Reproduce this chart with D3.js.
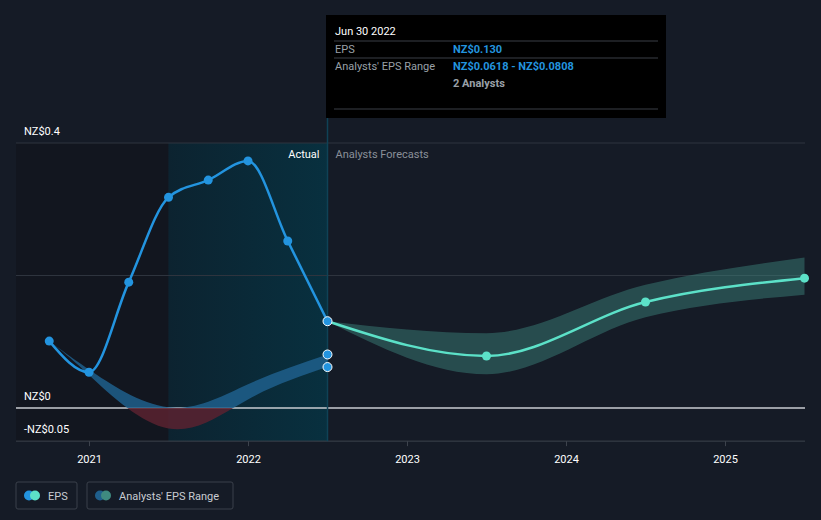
<!DOCTYPE html>
<html>
<head>
<meta charset="utf-8">
<script src="https://cdn.jsdelivr.net/npm/d3@7"></script>
<style>
  body { margin: 0; background: #151b26; font-family: Roboto, "Noto Sans", sans-serif; }
  svg { display: block; }
</style>
</head>
<body>
<div id="graf"></div>
<script>
// datos
var fechasEps   = [2020.75, 2021.0, 2021.25, 2021.5, 2021.75, 2022.0, 2022.25, 2022.5]
var valoresEps  = [0.101, 0.054, 0.190, 0.318, 0.344, 0.373, 0.252, 0.131]

var fechasRango = [2020.75, 2021.0, 2021.5, 2022.0, 2022.5]
var rangoBajo   = [0.101, 0.050, -0.031, 0.013, 0.0618]
var rangoAlto   = [0.101, 0.058, 0.001, 0.036, 0.0808]

var fechasPron  = [2022.5, 2023.5, 2024.5, 2025.5]
var valoresPron = [0.131, 0.0785, 0.160, 0.196]
var pronBajo    = [0.131, 0.051, 0.137, 0.171]
var pronAlto    = [0.131, 0.113, 0.186, 0.227]

var ticksX = [2021, 2022, 2023, 2024, 2025]
var ticksY = [0.4, 0.2, 0, -0.05]
var etiquetasY = ['NZ$0.4', '', 'NZ$0', '-NZ$0.05']

var ancho_total = 821, alto_total = 520
var svg = d3.select('#graf').append('svg')
  .attr('width', ancho_total).attr('height', alto_total)

var x = d3.scaleLinear().domain([2021, 2025]).range([89, 725])
var y = d3.scaleLinear().domain([0, 0.4]).range([408, 143])
var xIzq = 16, xDer = 805, yArriba = 143, yAbajo = y(-0.05)

var defs = svg.append('defs')
var grad = defs.append('linearGradient').attr('id', 'gradPasado')
grad.append('stop').attr('offset', '0%').attr('stop-color', '#0c2330')
grad.append('stop').attr('offset', '100%').attr('stop-color', '#08303f')
defs.append('clipPath').attr('id', 'arriba').append('rect')
  .attr('x', 0).attr('y', 0).attr('width', ancho_total).attr('height', y(0))
defs.append('clipPath').attr('id', 'abajo').append('rect')
  .attr('x', 0).attr('y', y(0)).attr('width', ancho_total).attr('height', 200)

// fondos
svg.append('rect').attr('x', xIzq).attr('y', yArriba)
  .attr('width', x(2021.5) - xIzq).attr('height', yAbajo - yArriba)
  .attr('fill', '#12161f')
svg.append('rect').attr('x', x(2021.5)).attr('y', yArriba)
  .attr('width', x(2022.5) - x(2021.5)).attr('height', yAbajo - yArriba)
  .attr('fill', 'url(#gradPasado)')

// rejilla
svg.selectAll('line.grid').data(ticksY).enter().append('line')
  .attr('x1', xIzq).attr('x2', xDer)
  .attr('y1', d => y(d)).attr('y2', d => y(d))
  .attr('stroke', d => d === 0 ? '#c8ccd2' : (d === -0.05 ? '#3d434d' : '#2e343e'))
  .attr('stroke-width', d => d === 0 ? 1.5 : 1)

svg.selectAll('text.ylab').data(ticksY).enter().append('text')
  .attr('x', 24).attr('y', d => y(d) - 8)
  .attr('fill', '#ffffff').attr('font-size', 11)
  .text((d, i) => etiquetasY[i])

// eje x
var xAxis = d3.axisBottom(x).tickValues(ticksX).tickFormat(d3.format('d')).tickSize(5).tickSizeOuter(0)
var gx = svg.append('g').attr('transform', `translate(0, ${yAbajo})`).call(xAxis)
gx.select('.domain').remove()
gx.selectAll('line').attr('stroke', '#3d434d')
gx.selectAll('text').attr('fill', '#ffffff').attr('font-size', 11).attr('dy', '1.3em')
  .attr('font-family', 'Roboto, sans-serif')

// linea vertical del tooltip
svg.append('line').attr('x1', x(2022.5)).attr('x2', x(2022.5))
  .attr('y1', 118).attr('y2', yAbajo)
  .attr('stroke', '#0f4256').attr('stroke-width', 1.5)

// area historica del rango
var datosRango = fechasRango.map((f, i) => ({ f: f, lo: rangoBajo[i], hi: rangoAlto[i] }))
var area = d3.area().x(d => x(d.f)).y0(d => y(d.lo)).y1(d => y(d.hi)).curve(d3.curveNatural)
svg.append('path').datum(datosRango).attr('d', area)
  .attr('fill', '#1f5f8c').attr('opacity', 0.85).attr('clip-path', 'url(#arriba)')
svg.append('path').datum(datosRango).attr('d', area)
  .attr('fill', '#5a2230').attr('opacity', 0.85).attr('clip-path', 'url(#abajo)')

// area de pronostico
var datosPron = fechasPron.map((f, i) => ({ f: f, v: valoresPron[i], lo: pronBajo[i], hi: pronAlto[i] }))
var areaPron = d3.area().x(d => x(d.f)).y0(d => y(d.lo)).y1(d => y(d.hi)).curve(d3.curveMonotoneX)
svg.append('path').datum(datosPron).attr('d', areaPron)
  .attr('fill', '#3f8a80').attr('opacity', 0.45)

// linea de pronostico
var linea = d3.line().x(d => x(d.f)).y(d => y(d.v)).curve(d3.curveMonotoneX)
svg.append('path').datum(datosPron).attr('d', linea)
  .attr('fill', 'none').attr('stroke', '#5ce1c8').attr('stroke-width', 2.5)
svg.selectAll('circle.pron').data(datosPron.slice(1)).enter().append('circle')
  .attr('cx', d => x(d.f)).attr('cy', d => y(d.v)).attr('r', 4.5).attr('fill', '#5ce1c8')

// linea EPS real
var datosEps = fechasEps.map((f, i) => ({ f: f, v: valoresEps[i] }))
svg.append('path').datum(datosEps).attr('d', linea)
  .attr('fill', 'none').attr('stroke', '#2394df').attr('stroke-width', 2.5)
svg.selectAll('circle.eps').data(datosEps.slice(0, -1)).enter().append('circle')
  .attr('cx', d => x(d.f)).attr('cy', d => y(d.v)).attr('r', 4.5).attr('fill', '#2394df')

// puntos resaltados en Jun 2022
var puntosRes = [valoresEps[valoresEps.length - 1], rangoAlto[rangoAlto.length - 1], rangoBajo[rangoBajo.length - 1]]
svg.selectAll('circle.res').data(puntosRes).enter().append('circle')
  .attr('cx', x(2022.5)).attr('cy', d => y(d)).attr('r', 4.5)
  .attr('fill', '#2394df').attr('stroke', '#ffffff').attr('stroke-width', 1)

// etiquetas Actual / Forecasts
svg.append('text').attr('x', x(2022.5) - 8).attr('y', 158).attr('text-anchor', 'end')
  .attr('fill', '#ffffff').attr('font-size', 11).text('Actual')
svg.append('text').attr('x', x(2022.5) + 8).attr('y', 158)
  .attr('fill', '#8a9099').attr('font-size', 11).text('Analysts Forecasts')

// tooltip
var tt = svg.append('g').attr('transform', 'translate(326, 15)')
tt.append('rect').attr('width', 340).attr('height', 103).attr('fill', '#000000')
;[26, 43, 94].forEach(yy => tt.append('line').attr('x1', 8).attr('x2', 332)
  .attr('y1', yy).attr('y2', yy).attr('stroke', '#3a3f47'))
tt.append('text').attr('x', 9).attr('y', 20).attr('fill', '#ffffff').attr('font-size', 11).text('Jun 30 2022')
tt.append('text').attr('x', 9).attr('y', 38).attr('fill', '#9aa0a8').attr('font-size', 11).text('EPS')
tt.append('text').attr('x', 127).attr('y', 38).attr('fill', '#2394df').attr('font-size', 11)
  .attr('font-weight', 'bold').text('NZ$0.130')
tt.append('text').attr('x', 9).attr('y', 55).attr('fill', '#9aa0a8').attr('font-size', 11).text("Analysts' EPS Range")
tt.append('text').attr('x', 127).attr('y', 55).attr('fill', '#2394df').attr('font-size', 11)
  .attr('font-weight', 'bold').text('NZ$' + rangoBajo[rangoBajo.length - 1] + ' - NZ$' + rangoAlto[rangoAlto.length - 1])
tt.append('text').attr('x', 127).attr('y', 72).attr('fill', '#9aa0a8').attr('font-size', 11)
  .attr('font-weight', 'bold').text('2 Analysts')

// leyenda
var leyenda = [
  { texto: 'EPS', x: 16, w: 61, c1: '#2394df', c2: '#5ce1c8' },
  { texto: "Analysts' EPS Range", x: 87, w: 146, c1: '#1f5f8c', c2: '#3f8a80' }
]
var lg = svg.selectAll('g.ley').data(leyenda).enter().append('g')
  .attr('transform', d => `translate(${d.x}, 482)`)
lg.append('rect').attr('width', d => d.w).attr('height', 27).attr('rx', 2)
  .attr('fill', 'none').attr('stroke', '#3a404a')
lg.append('circle').attr('cx', 13).attr('cy', 13.5).attr('r', 5).attr('fill', d => d.c1)
lg.append('circle').attr('cx', 19).attr('cy', 13.5).attr('r', 5).attr('fill', d => d.c2)
lg.append('text').attr('x', 32).attr('y', 18).attr('fill', '#c8ccd2').attr('font-size', 11).text(d => d.texto)
</script>
</body>
</html>
